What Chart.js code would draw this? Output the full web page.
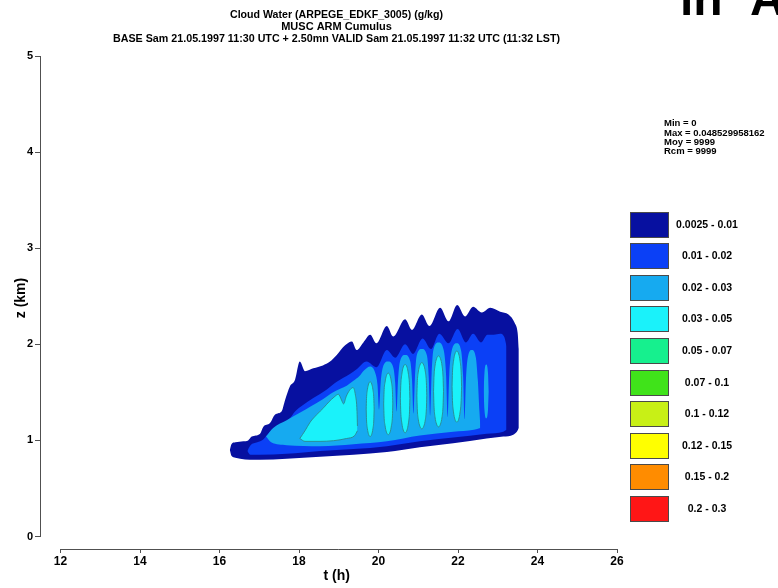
<!DOCTYPE html>
<html>
<head>
<meta charset="utf-8">
<script src="https://cdn.jsdelivr.net/npm/chart.js@4.4.0/dist/chart.umd.min.js"></script>
<style>
html,body{margin:0;padding:0;background:#fff;}
canvas{display:block;}
</style>
</head>
<body>
<canvas id="c" width="778" height="588"></canvas>
<script>
// ---------- texts ----------
const titleLines = [
  "Cloud Water (ARPEGE_EDKF_3005) (g/kg)",
  "MUSC ARM Cumulus",
  "BASE Sam 21.05.1997 11:30 UTC + 2.50mn VALID Sam 21.05.1997 11:32 UTC (11:32 LST)"
];
const statsLines = ["Min = 0", "Max = 0.048529958162", "Moy = 9999", "Rcm = 9999"];
const xAxisTitle = "t (h)";
const yAxisTitle = "z (km)";
const cornerWords = ["in", "A"];

// ---------- ticks ----------
const xTickValues = [12, 14, 16, 18, 20, 22, 24, 26];
const yTickValues = [0, 1, 2, 3, 4, 5];

// ---------- colour classes (g/kg) ----------
const classLabels = ["0.0025 - 0.01", "0.01 - 0.02", "0.02 - 0.03", "0.03 - 0.05", "0.05 - 0.07",
                     "0.07 - 0.1", "0.1 - 0.12", "0.12 - 0.15", "0.15 - 0.2", "0.2 - 0.3"];
const classColors = ["#0710a0", "#0b40f6", "#16aaf0", "#1af2fa", "#16f08e",
                     "#40e31a", "#c8f016", "#ffff00", "#ff8c00", "#ff1616"];

// ---------- contour boundaries [t (h), z (km)] ; null separates blobs ----------
// >= 0.0025 g/kg
const top0025 = [[16.26,0.90],[16.30,0.96],[16.40,0.98],[16.60,0.99],[16.72,1.00],[16.81,1.04],[17.02,1.07],
  [17.10,1.14],[17.27,1.18],[17.40,1.27],[17.56,1.30],[17.65,1.42],[17.77,1.56],[17.90,1.63],[18.02,1.82],
  [18.15,1.72],[18.36,1.75],[18.60,1.78],[18.78,1.82],[18.95,1.89],[19.16,1.99],[19.33,2.03],[19.45,1.94],
  [19.62,2.02],[19.79,2.10],[19.95,2.01],[20.21,2.19],[20.37,2.08],[20.67,2.26],[20.84,2.15],[21.09,2.31],
  [21.28,2.19],[21.55,2.38],[21.76,2.24],[21.98,2.41],[22.18,2.29],[22.38,2.39],[22.60,2.33],[22.81,2.38],
  [23.06,2.34],[23.27,2.31],[23.43,2.22],[23.50,2.12],[23.53,1.95]];
const base0025 = [[16.26,0.90],[16.30,0.84],[16.40,0.82],[16.52,0.81],[16.77,0.80],[17.02,0.80],[17.69,0.81],
  [18.53,0.83],[19.37,0.85],[20.21,0.88],[21.04,0.93],[21.88,0.97],[22.72,1.02],[23.14,1.04],[23.39,1.06],
  [23.48,1.09],[23.53,1.13]];
// >= 0.01 g/kg
const top001 = [[16.70,0.89],[16.78,0.95],[16.95,0.98],[17.10,1.01],[17.27,1.09],[17.45,1.13],[17.61,1.18],
  [17.77,1.23],[17.90,1.30],[18.11,1.37],[18.36,1.44],[18.70,1.53],[18.95,1.61],[19.28,1.69],[19.45,1.74],
  [19.70,1.82],[19.95,1.76],[20.21,1.94],[20.42,1.86],[20.67,2.00],[20.87,1.90],[21.11,2.06],[21.32,1.95],
  [21.53,2.11],[21.76,2.01],[21.99,2.16],[22.20,2.02],[22.38,2.11],[22.58,2.02],[22.74,2.10],[22.90,2.10],
  [23.06,2.11],[23.17,2.07],[23.22,1.98]];
const base001 = [[16.70,0.89],[16.78,0.85],[17.00,0.85],[17.69,0.86],[18.53,0.89],[19.37,0.91],[20.21,0.94],
  [21.04,0.99],[21.88,1.03],[22.72,1.07],[23.14,1.09],[23.22,1.11]];
// >= 0.02 g/kg
const top002 = [[17.17,1.04],[17.35,1.13],[17.69,1.21],[18.03,1.29],[18.28,1.35],[18.61,1.43],[18.86,1.50],
  [19.05,1.54],[19.20,1.57],[19.37,1.62],[19.52,1.67],[19.64,1.73],[19.79,1.77],
  [19.92,1.70],[19.975,1.58],[20.015,1.32],[20.055,1.60],[20.11,1.76],[20.24,1.82],
  [20.37,1.76],[20.42,1.60],[20.455,1.30],[20.49,1.62],[20.54,1.82],[20.67,1.89],
  [20.80,1.82],[20.845,1.62],[20.88,1.28],[20.915,1.64],[20.96,1.88],[21.09,1.95],
  [21.22,1.88],[21.265,1.65],[21.30,1.26],[21.335,1.68],[21.38,1.94],[21.51,2.02],
  [21.64,1.94],[21.70,1.68],[21.74,1.24],[21.78,1.68],[21.84,1.93],[21.97,2.01],
  [22.08,1.93],[22.13,1.66],[22.165,1.22],[22.20,1.64],[22.25,1.87],[22.35,1.94],
  [22.45,1.86],[22.50,1.62],[22.54,1.30],[22.56,1.16],
  null,
  [22.645,1.51],[22.665,1.70],[22.71,1.79],[22.755,1.70],[22.775,1.51]];
const base002 = [[17.17,1.04],[17.30,0.98],[17.69,0.95],[18.53,0.94],[19.37,0.96],[20.21,0.99],[21.04,1.05],
  [21.88,1.09],[22.40,1.11],[22.56,1.13],
  null,
  [22.645,1.51],[22.665,1.32],[22.71,1.23],[22.755,1.32],[22.775,1.51]];
// >= 0.03 g/kg
const top003 = [[18.02,1.02],[18.15,1.10],[18.28,1.19],[18.45,1.27],[18.62,1.34],[18.75,1.40],[18.88,1.45],
  [18.99,1.48],[19.07,1.42],[19.12,1.38],[19.19,1.46],[19.27,1.52],[19.36,1.55],[19.42,1.47],[19.46,1.30],[19.47,1.15],
  null, [19.69,1.325],[19.698,1.436],[19.72,1.527],[19.75,1.587],[19.79,1.61],[19.83,1.587],[19.86,1.527],[19.882,1.436],[19.89,1.325],
  null, [20.13,1.38],[20.139,1.505],[20.165,1.607],[20.199,1.674],[20.245,1.70],[20.291,1.674],[20.325,1.607],[20.351,1.505],[20.36,1.38],
  null, [20.55,1.435],[20.56,1.573],[20.586,1.687],[20.622,1.762],[20.67,1.79],[20.718,1.762],[20.754,1.687],[20.78,1.573],[20.79,1.435],
  null, [20.965,1.465],[20.975,1.60],[21.00,1.71],[21.04,1.782],[21.09,1.81],[21.14,1.782],[21.18,1.71],[21.205,1.60],[21.215,1.465],
  null, [21.385,1.51],[21.395,1.654],[21.42,1.773],[21.46,1.85],[21.51,1.88],[21.56,1.85],[21.60,1.773],[21.625,1.654],[21.635,1.51],
  null, [21.85,1.56],[21.86,1.704],[21.886,1.823],[21.922,1.90],[21.97,1.93],[22.018,1.90],[22.054,1.823],[22.08,1.704],[22.09,1.56]];
const base003 = [[18.02,1.02],[18.15,0.99],[18.53,0.99],[19.20,1.02],[19.40,1.05],[19.47,1.10],
  null, [19.69,1.325],[19.698,1.214],[19.72,1.123],[19.75,1.063],[19.79,1.04],[19.83,1.063],[19.86,1.123],[19.882,1.214],[19.89,1.325],
  null, [20.13,1.38],[20.139,1.255],[20.165,1.153],[20.199,1.086],[20.245,1.06],[20.291,1.086],[20.325,1.153],[20.351,1.255],[20.36,1.38],
  null, [20.55,1.435],[20.56,1.297],[20.586,1.183],[20.622,1.108],[20.67,1.08],[20.718,1.108],[20.754,1.183],[20.78,1.297],[20.79,1.435],
  null, [20.965,1.465],[20.975,1.33],[21.00,1.22],[21.04,1.148],[21.09,1.12],[21.14,1.148],[21.18,1.22],[21.205,1.33],[21.215,1.465],
  null, [21.385,1.51],[21.395,1.366],[21.42,1.247],[21.46,1.17],[21.51,1.14],[21.56,1.17],[21.60,1.247],[21.625,1.366],[21.635,1.51],
  null, [21.85,1.56],[21.86,1.416],[21.886,1.297],[21.922,1.22],[21.97,1.19],[22.018,1.22],[22.054,1.297],[22.08,1.416],[22.09,1.56]];

// ---------- build datasets ----------
const FONT = '"Liberation Sans", Arial, Helvetica, sans-serif';
const levels = [
  {top: top0025, base: base0025, color: classColors[0], order: 4, line: null},
  {top: top001,  base: base001,  color: classColors[1], order: 3, line: null},
  {top: top002,  base: base002,  color: classColors[2], order: 2, line: null},
  {top: top003,  base: base003,  color: classColors[3], order: 1, line: '#2a8f97'}
];
function pieces(arr) {
  const out = []; let cur = [];
  for (const p of arr) {
    if (p === null) { if (cur.length) out.push(cur); cur = []; }
    else cur.push({x: p[0], y: p[1]});
  }
  if (cur.length) out.push(cur);
  return out;
}
const datasets = [];
levels.forEach(lv => {
  const tops = pieces(lv.top), bases = pieces(lv.base);
  tops.forEach((tp, k) => {
    const common = {
      order: lv.order, pointRadius: 0, pointHoverRadius: 0,
      borderWidth: lv.line ? 1 : 0, borderColor: lv.line || 'rgba(0,0,0,0)',
      backgroundColor: lv.color, cubicInterpolationMode: 'monotone'
    };
    const topIndex = datasets.length;
    datasets.push(Object.assign({data: tp, fill: false}, common));
    datasets.push(Object.assign({data: bases[k], fill: topIndex}, common));
  });
});

// ---------- decorations: titles, stats, legend, axis lines ----------
const decor = {
  id: 'decor',
  beforeDraw(chart) {
    const c = chart.ctx; c.save(); c.fillStyle = '#fff'; c.fillRect(0, 0, chart.width, chart.height); c.restore();
  },
  afterDraw(chart) {
    const ctx = chart.ctx, xs = chart.scales.x, ys = chart.scales.y;
    ctx.save();
    // axis lines
    ctx.strokeStyle = '#505050'; ctx.lineWidth = 1;
    const ax = Math.round(ys.right) + 0.5;
    ctx.beginPath();
    ctx.moveTo(ax, ys.getPixelForValue(yTickValues[yTickValues.length - 1]));
    ctx.lineTo(ax, ys.getPixelForValue(yTickValues[0]) + 0.5);
    ctx.stroke();
    const ay = Math.round(xs.top) + 0.5;
    ctx.beginPath();
    ctx.moveTo(xs.getPixelForValue(xTickValues[0]), ay);
    ctx.lineTo(xs.getPixelForValue(xTickValues[xTickValues.length - 1]), ay);
    ctx.stroke();

    ctx.fillStyle = '#000';
    // title
    ctx.textAlign = 'center'; ctx.textBaseline = 'alphabetic';
    ctx.font = 'bold 11px ' + FONT;
    const tw = [213, 126, 447], tb = [17.5, 29.5, 42];
    titleLines.forEach((t, i) => ctx.fillText(t, 336.5, tb[i], tw[i]));
    // axis titles
    ctx.font = 'bold 14px ' + FONT;
    ctx.textBaseline = 'middle';
    const xc = xs.getPixelForValue((xTickValues[0] + xTickValues[xTickValues.length - 1]) / 2);
    ctx.fillText(xAxisTitle, xc - 2, 576);
    ctx.save();
    ctx.translate(21, 298); ctx.rotate(-Math.PI / 2);
    ctx.fillText(yAxisTitle, 0, 0);
    ctx.restore();
    // stats
    ctx.textAlign = 'left'; ctx.textBaseline = 'alphabetic';
    ctx.font = 'bold 9.5px ' + FONT;
    const sb = [126, 135.5, 144.5, 153.5];
    statsLines.forEach((t, i) => ctx.fillText(t, 664, sb[i], 102));
    // legend
    classLabels.forEach((lab, i) => {
      const top = Math.round(211.5 + i * 31.6);
      ctx.fillStyle = classColors[i];
      ctx.fillRect(630, top, 39, 26);
      ctx.strokeStyle = '#4a4a4a'; ctx.lineWidth = 1;
      ctx.strokeRect(630.5, top + 0.5, 38, 25);
      ctx.fillStyle = '#000';
      ctx.font = 'bold 10.5px ' + FONT;
      ctx.textAlign = 'center'; ctx.textBaseline = 'middle';
      ctx.fillText(lab, 707, top + 13.5, 64);
    });
    // cut-off big words at top right
    ctx.font = 'bold 48px ' + FONT;
    ctx.textAlign = 'left'; ctx.textBaseline = 'alphabetic';
    ctx.fillText(cornerWords[0], 680, 15);
    ctx.fillText(cornerWords[1], 750, 15);
    ctx.restore();
  }
};

const tickFont = (s) => ({family: FONT, size: s, weight: 'bold'});
new Chart(document.getElementById('c'), {
  type: 'line',
  data: {datasets},
  options: {
    responsive: false, devicePixelRatio: 1, animation: false,
    layout: {padding: {left: 0, top: 56, right: 161, bottom: 0}},
    plugins: {legend: {display: false}, tooltip: {enabled: false}, title: {display: false}},
    elements: {line: {tension: 0}},
    scales: {
      x: {
        type: 'linear', position: 'bottom', min: 11.484, max: 26,
        afterBuildTicks: s => { s.ticks = xTickValues.map(v => ({value: v})); },
        afterFit: s => { s.height = 39; },
        ticks: {font: tickFont(12), color: '#000', padding: 1, maxRotation: 0, autoSkip: false},
        grid: {drawOnChartArea: false, drawTicks: true, tickLength: 4, color: '#505050'},
        border: {display: false}
      },
      y: {
        type: 'linear', position: 'left', min: -0.13, max: 5,
        afterBuildTicks: s => { s.ticks = yTickValues.map(v => ({value: v})); },
        afterFit: s => { s.width = 40; },
        ticks: {font: tickFont(11), color: '#000', padding: 2},
        grid: {drawOnChartArea: false, drawTicks: true, tickLength: 5, color: '#505050'},
        border: {display: false}
      }
    }
  },
  plugins: [decor]
});
</script>
</body>
</html>
